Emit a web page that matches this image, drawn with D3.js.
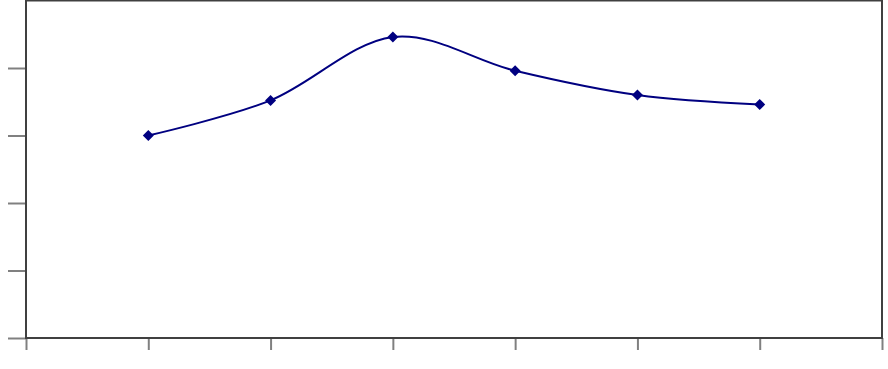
<!DOCTYPE html>
<html>
<head>
<meta charset="utf-8">
<script src="https://cdn.jsdelivr.net/npm/d3@7"></script>
<style>
  body { margin: 0; background: #fff; }
  svg { display: block; }
</style>
</head>
<body>
<div class="container"><svg width="888" height="369"></svg></div>
<script>
// category positions (ticks 0..7, data sits on 1..6) and values
var positions = [1, 2, 3, 4, 5, 6];
var values = [3.0, 3.52, 4.46, 3.96, 3.6, 3.46];
var yTicks = [0, 1, 2, 3, 4];
var xTicks = [0, 1, 2, 3, 4, 5, 6, 7];

function draw_chart() {
    var svg = d3.select(".container").select("svg");
    var left = 26, right = 882, top = 0.5, bottom = 338;

    var x = d3.scaleLinear().domain([0, 7]).range([left, right]);
    var y = d3.scaleLinear().domain([0, 5]).range([bottom, top]);

    // y ticks sticking out to the left
    svg.append("g")
        .attr("transform", "translate(" + left + ",0)")
        .call(d3.axisLeft(y).tickValues(yTicks).tickSize(18).tickFormat(""))
        .call(function (g) {
            g.select(".domain").remove();
            g.selectAll("line").attr("stroke", "#808080").attr("stroke-width", 2);
        });

    // x ticks hanging below
    svg.append("g")
        .attr("transform", "translate(0," + bottom + ")")
        .call(d3.axisBottom(x).tickValues(xTicks).tickSize(12).tickFormat(""))
        .call(function (g) {
            g.select(".domain").remove();
            g.selectAll("line").attr("stroke", "#808080").attr("stroke-width", 2);
        });

    // plot area frame
    svg.append("rect")
        .attr("x", left)
        .attr("y", top)
        .attr("width", right - left)
        .attr("height", bottom - top)
        .attr("fill", "none")
        .attr("stroke", "#404040")
        .attr("stroke-width", 2);

    var data = positions.map(function (p, i) { return { p: p, v: values[i] }; });

    // smoothed line
    var line = d3.line()
        .x(function (d) { return x(d.p); })
        .y(function (d) { return y(d.v); })
        .curve(d3.curveCardinal.tension(0));

    svg.append("path")
        .datum(data)
        .attr("fill", "none")
        .attr("stroke", "#000080")
        .attr("stroke-width", 2)
        .attr("d", line);

    // diamond markers
    svg.append("g")
        .selectAll("path")
        .data(data)
        .enter().append("path")
        .attr("transform", function (d) { return "translate(" + x(d.p) + "," + y(d.v) + ")"; })
        .attr("d", "M0,-5.5L5.5,0L0,5.5L-5.5,0Z")
        .attr("fill", "#000080");
}

draw_chart();
</script>
</body>
</html>
